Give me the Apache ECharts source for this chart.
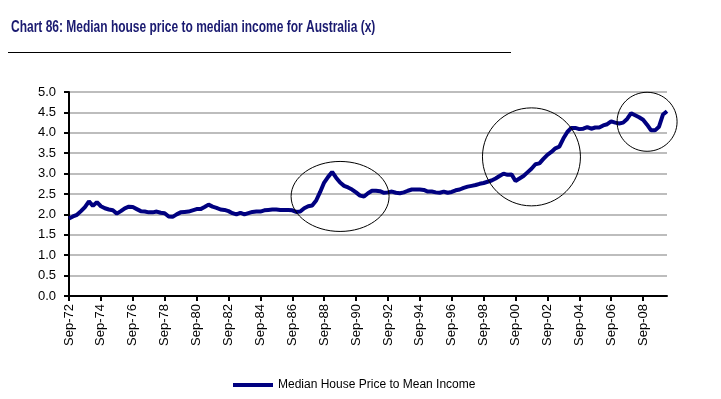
<!DOCTYPE html>
<html>
<head>
<meta charset="utf-8">
<script src="https://cdn.jsdelivr.net/npm/echarts/dist/echarts.min.js"></script>
<style>
  html, body { margin: 0; padding: 0; background: #fff; }
  #chart { width: 721px; height: 399px; }
</style>
</head>
<body>
<div id="chart"></div>
<script>
// quarterly, Sep-72 .. Mar-10
const startYear = 1972
const quarterMonths = ['Mar', 'Jun', 'Sep', 'Dec']
const seriesName = 'Median House Price to Mean Income'
const titleText = 'Chart 86: Median house price to median income for Australia (x)'

const ratio = [
  1.90, 1.95, 1.99, 2.08, 2.18, 2.32, 2.21, 2.30, 2.20, 2.15,
  2.12, 2.10, 2.02, 2.08, 2.15, 2.19, 2.18, 2.13, 2.08, 2.07,
  2.05, 2.05, 2.07, 2.04, 2.03, 1.95, 1.94, 2.00, 2.05, 2.06,
  2.07, 2.10, 2.13, 2.13, 2.18, 2.24, 2.19, 2.16, 2.12, 2.11,
  2.08, 2.03, 2.00, 2.04, 2.00, 2.03, 2.06, 2.07, 2.07, 2.10,
  2.11, 2.12, 2.12, 2.11, 2.11, 2.11, 2.10, 2.06, 2.07, 2.15,
  2.20, 2.22, 2.34, 2.55, 2.78, 2.92, 3.04, 2.90, 2.78, 2.70,
  2.66, 2.61, 2.54, 2.46, 2.44, 2.52, 2.58, 2.58, 2.57, 2.53,
  2.54, 2.56, 2.53, 2.52, 2.54, 2.58, 2.61, 2.61, 2.61, 2.60,
  2.56, 2.56, 2.54, 2.53, 2.56, 2.53, 2.55, 2.59, 2.61, 2.65,
  2.68, 2.70, 2.72, 2.75, 2.77, 2.80, 2.83, 2.88, 2.94, 3.00,
  2.97, 2.98, 2.82, 2.88, 2.94, 3.03, 3.12, 3.23, 3.25, 3.36,
  3.46, 3.53, 3.62, 3.66, 3.86, 4.02, 4.12, 4.12, 4.09, 4.10,
  4.14, 4.10, 4.13, 4.13, 4.18, 4.21, 4.28, 4.25, 4.23, 4.25,
  4.34, 4.48, 4.43, 4.38, 4.32, 4.20, 4.06, 4.06, 4.15, 4.45,
  4.53
]

const yTicks = [0, 0.5, 1, 1.5, 2, 2.5, 3, 3.5, 4, 4.5, 5]

// category labels, one per quarter
const quarters = ratio.map((_, i) => {
  const q = 2 + i
  const year = startYear + Math.floor(q / 4)
  return quarterMonths[q % 4] + '-' + String(year % 100).padStart(2, '0')
})

const chart = echarts.init(document.getElementById('chart'), null, { renderer: 'canvas' })

const axisFont = { fontFamily: 'Liberation Sans, Arial, sans-serif', fontSize: 13, color: '#000' }

chart.setOption({
  backgroundColor: '#fff',
  animation: false,
  grid: { left: 69, right: 54, top: 92, bottom: 103, containLabel: false },
  legend: {
    left: 228,
    top: 374,
    icon: 'rect',
    itemWidth: 40,
    itemHeight: 4,
    textStyle: { fontFamily: 'Liberation Sans, Arial, sans-serif', fontSize: 12, color: '#000' },
    data: [seriesName]
  },
  xAxis: {
    type: 'category',
    data: quarters,
    boundaryGap: false,
    axisLine: { lineStyle: { color: '#000', width: 2 } },
    axisTick: { show: true, interval: 7, length: 5, lineStyle: { color: '#000', width: 2 } },
    axisLabel: { ...axisFont, interval: 7, rotate: 90, margin: 8 },
    splitLine: { show: false }
  },
  yAxis: {
    type: 'value',
    min: yTicks[0],
    max: yTicks[yTicks.length - 1],
    interval: 0.5,
    axisLine: { show: true, lineStyle: { color: '#000', width: 2 } },
    axisTick: { show: true, length: 5, lineStyle: { color: '#000', width: 2 } },
    axisLabel: { ...axisFont, margin: 13, formatter: v => v.toFixed(1) },
    splitLine: { lineStyle: { color: '#bdbdbd', width: 2 } }
  },
  series: [
    {
      name: seriesName,
      type: 'line',
      data: ratio,
      symbol: 'none',
      lineStyle: { color: '#000080', width: 4 },
      itemStyle: { color: '#000080' }
    }
  ]
})

// hand-drawn rings highlighting the three booms
const rings = [
  { idx: 68, val: 2.44, rx: 49, ry: 35 },
  { idx: 116, val: 3.41, rx: 49, ry: 49 },
  { idx: 145, val: 4.27, rx: 30, ry: 29.5 }
]

const graphics = rings.map(r => {
  const [cx, cy] = chart.convertToPixel('grid', [r.idx, r.val])
  return {
    type: 'ellipse',
    shape: { cx, cy, rx: r.rx, ry: r.ry },
    style: { fill: 'none', stroke: '#000', lineWidth: 1 },
    z: 10
  }
})

// condensed bold title (no narrow font installed, so squeeze it)
graphics.push({
  type: 'text',
  x: 11,
  y: 19,
  scaleX: 0.705,
  style: {
    text: titleText,
    fontFamily: 'Liberation Sans, Arial, sans-serif',
    fontWeight: 'bold',
    fontSize: 17,
    fill: '#1a1a70'
  }
})

graphics.push({
  type: 'line',
  shape: { x1: 8, y1: 52.5, x2: 511, y2: 52.5 },
  style: { stroke: '#000', lineWidth: 1 }
})

chart.setOption({ graphic: graphics })
</script>
</body>
</html>
